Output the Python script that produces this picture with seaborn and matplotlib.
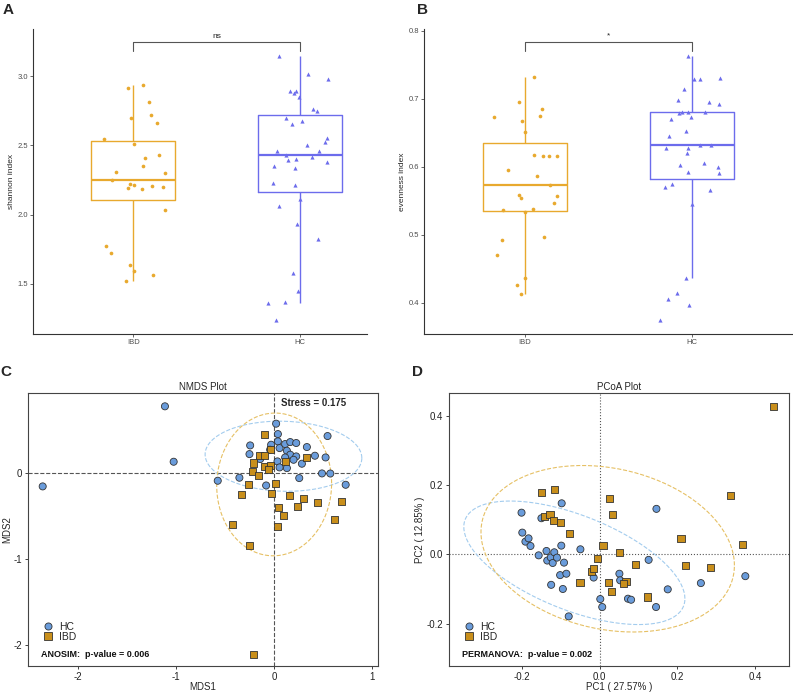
import numpy as np
import pandas as pd
import matplotlib
matplotlib.use("Agg")
import matplotlib.pyplot as plt
import seaborn as sns

# ---- data ----
groups = ["IBD", "HC"]

# A: shannon index (jitter offsets)
shannon_ibd = [2.913, 2.937, 2.817, 2.699, 2.720, 2.660, 2.547, 2.510, 2.412, 2.431, 2.351, 2.306, 2.303, 2.252,
               2.224, 2.195, 2.211, 2.185, 2.209, 2.202, 2.031, 1.770, 1.720, 1.633, 1.589, 1.560, 1.517]
shannon_ibd_jit = [-0.032, 0.058, 0.096, -0.016, 0.104, 0.145, -0.177, 0.002, 0.072, 0.153, 0.056, -0.102, 0.193, -0.127,
                   -0.022, -0.030, 0.002, 0.050, 0.112, 0.177, 0.193, -0.165, -0.133, -0.022, 0.002, 0.116, -0.044]
shannon_hc = [3.150, 3.014, 2.981, 2.891, 2.879, 2.891, 2.853, 2.764, 2.747, 2.699, 2.653, 2.674, 2.556, 2.523, 2.501,
              2.457, 2.460, 2.428, 2.404, 2.395, 2.414, 2.383, 2.349, 2.337, 2.226, 2.216, 2.113, 2.060, 1.932, 1.823,
              1.577, 1.445, 1.363, 1.370, 1.235]
shannon_hc_jit = [-0.125, 0.048, 0.167, -0.060, -0.038, -0.024, -0.010, 0.076, 0.100, -0.084, -0.050, 0.008, 0.163, 0.151,
                  0.042, -0.137, 0.110, -0.088, -0.026, -0.072, 0.072, 0.163, -0.157, -0.030, -0.163, -0.030, 0.000,
                  -0.124, -0.022, 0.108, -0.042, -0.016, -0.191, -0.090, -0.143]

# B: evenness index
even_ibd = [0.7324, 0.6951, 0.6725, 0.6848, 0.6745, 0.6667, 0.6515, 0.6172, 0.6162, 0.6162, 0.6152, 0.5946, 0.5863,
            0.5735, 0.5578, 0.5544, 0.5574, 0.5466, 0.5368, 0.5373, 0.5338, 0.4971, 0.4917, 0.4706, 0.4368, 0.4265, 0.4132]
even_ibd_jit = [0.058, -0.032, -0.181, 0.102, 0.094, -0.018, 0.002, 0.054, 0.112, 0.143, 0.193, -0.102, 0.072, 0.153,
                -0.032, -0.024, 0.193, 0.175, -0.129, 0.048, 0.002, 0.116, -0.135, -0.167, 0.002, -0.044, -0.024]
even_hc = [0.7632, 0.7294, 0.7294, 0.7299, 0.7137, 0.6985, 0.6946, 0.6922, 0.6789, 0.6799, 0.6809, 0.6799, 0.6735,
           0.6696, 0.6529, 0.6446, 0.6270, 0.6275, 0.6319, 0.6314, 0.6196, 0.6025, 0.6049, 0.5990, 0.5922, 0.5912,
           0.5740, 0.5706, 0.5652, 0.5451, 0.4363, 0.4147, 0.4049, 0.3971, 0.3740]
even_hc_jit = [-0.026, 0.008, 0.046, 0.165, -0.050, -0.084, 0.100, 0.161, -0.082, -0.060, -0.026, 0.076, -0.010, -0.125,
               -0.036, -0.139, -0.157, -0.028, 0.044, 0.110, -0.030, -0.074, 0.072, 0.151, -0.024, 0.161, -0.124, -0.163,
               0.106, 0.000, -0.040, -0.090, -0.143, -0.018, -0.193]

# C: NMDS
nmds_hc_x = [0.020, 0.038, 0.038, -0.245, -0.252, -0.031, -0.041, 0.055, 0.112, 0.164, 0.225, 0.334, 0.545, 0.130,
             0.164, 0.225, 0.198, 0.112, 0.034, 0.130, 0.055, -0.143, 0.283, 0.416, 0.525, 0.488, 0.573, 0.256,
             -0.082, -0.355, -0.576, 0.730, -1.115, -2.363, -1.026]
nmds_hc_y = [0.575, 0.454, 0.369, 0.322, 0.221, 0.330, 0.272, 0.291, 0.338, 0.361, 0.350, 0.303, 0.431, 0.260,
             0.214, 0.194, 0.155, 0.182, 0.136, 0.058, 0.066, 0.163, 0.109, 0.202, 0.182, -0.004, -0.005, -0.058,
             -0.144, -0.054, -0.089, -0.136, 0.777, -0.155, 0.132]
nmds_ibd_x = [-0.102, -0.034, -0.150, -0.102, -0.211, -0.102, -0.041, -0.058, -0.225, -0.164, -0.266, 0.014, -0.024,
              -0.331, 0.153, 0.331, 0.119, 0.300, 0.048, 0.235, 0.099, 0.440, 0.692, 0.620, 0.031, -0.430, -0.252, -0.211]
nmds_ibd_y = [0.454, 0.272, 0.206, 0.202, 0.117, 0.074, 0.085, 0.039, 0.019, -0.023, -0.136, -0.117, -0.241,
              -0.245, -0.260, 0.182, 0.136, -0.299, -0.396, -0.393, -0.493, -0.338, -0.330, -0.544, -0.625, -0.602,
              -0.839, -2.109]

# D: PCoA
pcoa_hc_x = [-0.200, -0.198, -0.149, -0.097, -0.190, -0.182, -0.177, -0.156, -0.136, -0.134, -0.125, -0.120, -0.116,
             -0.109, -0.098, -0.091, -0.101, -0.085, -0.124, -0.094, -0.079, -0.049, -0.015, 0.002, 0.007, 0.051,
             0.053, 0.073, 0.081, 0.126, 0.146, 0.145, 0.175, 0.260, 0.374]
pcoa_hc_y = [0.120, 0.0625, 0.104, 0.147, 0.0365, 0.046, 0.024, -0.003, 0.0096, -0.018, -0.009, -0.025, 0.0058,
             -0.0096, 0.025, -0.024, -0.060, -0.056, -0.088, -0.100, -0.179, 0.0144, -0.067, -0.129, -0.152, -0.056,
             -0.075, -0.128, -0.131, -0.016, 0.131, -0.152, -0.101, -0.083, -0.063]
pcoa_ibd_x = [-0.148, -0.115, -0.140, -0.127, -0.117, -0.100, -0.078, -0.050, -0.004, -0.020, -0.015, 0.009, 0.026,
              0.034, 0.022, 0.030, 0.052, 0.068, 0.062, 0.093, 0.122, 0.209, 0.221, 0.284, 0.336, 0.366, 0.447]
pcoa_ibd_y = [0.178, 0.1875, 0.110, 0.114, 0.098, 0.093, 0.060, -0.080, -0.0115, -0.050, -0.040, 0.025, 0.160,
              0.114, -0.082, -0.106, 0.006, -0.078, -0.085, -0.030, -0.123, 0.046, -0.031, -0.037, 0.170, 0.028, 0.426]

# confidence ellipses (centre and shape matrix)
nmds_ell_center = {"HC": (0.095, 0.196), "IBD": (0.0, -0.132)}
nmds_ell_shape = {"HC": [[0.64, -0.0168], [-0.0168, 0.1665]], "IBD": [[0.344, 0.008], [0.008, 0.69]]}
pcoa_ell_center = {"HC": (-0.0645, -0.0245), "IBD": (0.021, 0.016)}
pcoa_ell_shape = {"HC": [[0.0804, -0.0293], [-0.0293, 0.0317]], "IBD": [[0.1056, -0.0156], [-0.0156, 0.0576]]}

box_colors = {"IBD": "#E8A92E", "HC": "#6C6CEC"}
pt_colors = {"HC": "#6A9CDB", "IBD": "#C98F1B"}
ell_colors = {"HC": "#A3CCEE", "IBD": "#E6C064"}

sns.set_style("ticks")
plt.rcParams["font.family"] = ["Liberation Sans", "DejaVu Sans"]
plt.rcParams["axes.unicode_minus"] = False

W, H = 793, 694
fig = plt.figure(figsize=(W / 100, H / 100), dpi=100)


def px_axes(left, top, right, bottom):
    return fig.add_axes([left / W, 1 - bottom / H, (right - left) / W, (bottom - top) / H])


def box_panel(ax, ibd, ibd_jit, hc, hc_jit, ylabel, yticks, ylim, xlim, br_y, br_h, star):
    df = pd.DataFrame({"group": ["IBD"] * len(ibd) + ["HC"] * len(hc), "value": ibd + hc})
    sns.boxplot(data=df, x="group", y="value", hue="group", order=groups, hue_order=groups, palette=box_colors,
                fill=False, width=0.5, showfliers=False, showcaps=False, linewidth=1.0,
                medianprops={"linewidth": 1.6}, legend=False, ax=ax)
    sns.scatterplot(x=np.array(ibd_jit), y=ibd, color=box_colors["IBD"], marker="o", s=7, linewidth=0, ax=ax, zorder=4)
    sns.scatterplot(x=1 + np.array(hc_jit), y=hc, color=box_colors["HC"], marker="^", s=9, linewidth=0, ax=ax, zorder=4)
    ax.plot([0, 0, 1, 1], [br_y - br_h, br_y, br_y, br_y - br_h], color="#555555", lw=0.8)
    ax.text(0.5, br_y + br_h * 0.3, star, ha="center", va="bottom", fontsize=6, color="#222222")
    ax.set_xlim(*xlim)
    ax.set_ylim(*ylim)
    ax.set_yticks(yticks)
    ax.set_yticklabels([f"{v:.1f}" for v in yticks])
    ax.set_xlabel("")
    ax.set_ylabel(ylabel, fontsize=6, labelpad=2)
    sns.despine(ax=ax)
    for s in ["left", "bottom"]:
        ax.spines[s].set_color("#333333")
        ax.spines[s].set_linewidth(0.8)
    ax.tick_params(labelsize=5.5, colors="#4D4D4D", length=2, width=0.6, pad=1.5)


axA = px_axes(33, 29, 367, 334)
box_panel(axA, shannon_ibd, shannon_ibd_jit, shannon_hc, shannon_hc_jit, "shannon index",
          [1.5, 2.0, 2.5, 3.0], (1.136, 3.342), (-0.6, 1.4), 3.246, 0.065, "ns")
axB = px_axes(424, 29, 793, 334)
box_panel(axB, even_ibd, even_ibd_jit, even_hc, even_hc_jit, "evenness index",
          [0.4, 0.5, 0.6, 0.7, 0.8], (0.354, 0.8025), (-0.6, 1.6), 0.783, 0.013, "*")


def ord_panel(ax, hc_x, hc_y, ibd_x, ibd_y, centers, shapes, ls, title, xlabel, ylabel, note, xticks, yticks, xlim, ylim):
    df = pd.DataFrame({"x": hc_x + ibd_x, "y": hc_y + ibd_y, "group": ["HC"] * len(hc_x) + ["IBD"] * len(ibd_x)})
    ax.axhline(0, color="#555555", ls=ls, lw=0.8, zorder=1)
    ax.axvline(0, color="#555555", ls=ls, lw=0.8, zorder=1)
    t = np.linspace(0, 2 * np.pi, 200)
    for g in ["HC", "IBD"]:
        L = np.linalg.cholesky(np.array(shapes[g]))
        pts = L @ np.vstack([np.cos(t), np.sin(t)])
        ax.plot(centers[g][0] + pts[0], centers[g][1] + pts[1], color=ell_colors[g], ls="--", lw=0.8, zorder=2)
    sns.scatterplot(data=df, x="x", y="y", hue="group", style="group", hue_order=["HC", "IBD"],
                    markers={"HC": "o", "IBD": "s"}, palette=pt_colors, s=26, edgecolor="#333333",
                    linewidth=0.6, ax=ax, zorder=3)
    ax.legend(loc="upper left", bbox_to_anchor=(0.027, 0.163), frameon=False, fontsize=7.5,
              handletextpad=0.1, labelspacing=0.0, borderaxespad=0, borderpad=0, markerscale=1.0)
    ax.text(0.038, 0.043, note, transform=ax.transAxes, fontsize=6.5, fontweight="bold", va="center", color="#111111")
    ax.set_xlim(*xlim)
    ax.set_ylim(*ylim)
    ax.set_xticks(xticks)
    ax.set_yticks(yticks)
    ax.set_title(title, fontsize=7, pad=2.5)
    ax.set_xlabel(xlabel, fontsize=7, labelpad=0.5)
    ax.set_ylabel(ylabel, fontsize=7, labelpad=1)
    for s in ax.spines.values():
        s.set_color("#444444")
        s.set_linewidth(0.8)
    ax.tick_params(labelsize=7, colors="#222222", length=2.5, width=0.6, pad=1.5)


axC = px_axes(28, 393, 378, 666)
ord_panel(axC, nmds_hc_x, nmds_hc_y, nmds_ibd_x, nmds_ibd_y, nmds_ell_center, nmds_ell_shape, "--",
          "NMDS Plot", "MDS1", "MDS2", "ANOSIM:  p-value = 0.006", [-2, -1, 0, 1], [-2, -1, 0],
          (-2.513, 1.060), (-2.245, 0.932))
axC.text(0.723, 0.963, "Stress = 0.175", transform=axC.transAxes, fontsize=7, fontweight="bold", va="center")

axD = px_axes(449, 393, 789, 666)
ord_panel(axD, pcoa_hc_x, pcoa_hc_y, pcoa_ibd_x, pcoa_ibd_y, pcoa_ell_center, pcoa_ell_shape, ":",
          "PCoA Plot", "PC1 ( 27.57% )", "PC2 ( 12.85% )", "PERMANOVA:  p-value = 0.002",
          [-0.2, 0.0, 0.2, 0.4], [-0.2, 0.0, 0.2, 0.4], (-0.386, 0.486), (-0.322, 0.465))
axD.set_xticklabels(["-0.2", "0.0", "0.2", "0.4"])
axD.set_yticklabels(["-0.2", "0.0", "0.2", "0.4"])

for lab, x, y in [("A", 3, 10), ("B", 417, 10), ("C", 0, 372), ("D", 412, 372)]:
    fig.text(x / W, 1 - y / H, lab, fontsize=11, fontweight="bold", va="center", ha="left")

fig.savefig("out.png", dpi=100)
